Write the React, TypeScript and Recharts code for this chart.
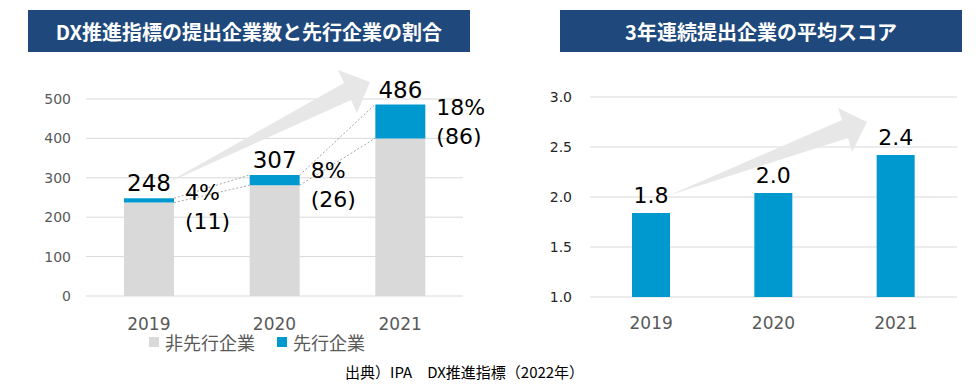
import React from "react";
import {
  ComposedChart,
  BarChart,
  Bar,
  XAxis,
  YAxis,
  CartesianGrid,
  LabelList,
  ReferenceLine,
} from "recharts";

const YEARS = ["2019", "2020", "2021"];
const NON_LEADING = [237, 281, 400];
const LEADING = [11, 26, 86];
const AVG_SCORE = [1.84, 2.04, 2.42];
const COUNT_TICKS = [0, 100, 200, 300, 400, 500];
const SCORE_TICKS = [1.0, 1.5, 2.0, 2.5, 3.0];

const GRAY = "#D9D9D9";
const BLUE = "#0099CF";
const NAVY = "#1F497D";
const AXIS_TEXT = "#595959";
const NUM_FONT = "'DejaVu Sans', 'Noto Sans CJK JP', sans-serif";
const JP_FONT = "'Noto Sans CJK JP', sans-serif";

// half bar width in category units (bar 50px / band ~126px)
const BAR_HALF = 0.2;

const countData = YEARS.map((year, i) => {
  const total = NON_LEADING[i] + LEADING[i];
  return {
    year,
    pos: i + 0.5,
    nonLeading: NON_LEADING[i],
    leading: LEADING[i],
    total,
    share: `${Math.round((LEADING[i] / total) * 100)}%|(${LEADING[i]})`,
  };
});
const yearTicks = countData.map((d) => d.pos);

const scoreData = YEARS.map((year, i) => ({ year, score: AVG_SCORE[i] }));

// dotted connectors between neighbouring bars (Excel-style series lines)
const connectors = countData.slice(0, -1).flatMap((d, i) => {
  const next = countData[i + 1];
  const x1 = d.pos + BAR_HALF;
  const x2 = next.pos - BAR_HALF;
  return [
    [{ x: x1, y: d.total }, { x: x2, y: next.total }],
    [{ x: x1, y: d.nonLeading }, { x: x2, y: next.nonLeading }],
  ];
});

const renderShare = (props: any) => {
  const vb = props.viewBox || props;
  const x = Number(vb.x) + Number(vb.width) + 11;
  const y = Number(vb.y) + Number(vb.height) * 0.3;
  const [pct, cnt] = String(props.value).split("|");
  return (
    <text x={x} y={y} fill="#000" fontSize={22} fontFamily={NUM_FONT}>
      <tspan x={x} y={y}>{pct}</tspan>
      <tspan x={x} y={y + 29}>{cnt}</tspan>
    </text>
  );
};

function Banner({ left, width, text }: { left: number; width: number; text: string }) {
  return (
    <div
      style={{
        position: "absolute",
        left,
        top: 10,
        width,
        height: 42,
        background: NAVY,
        color: "#fff",
        fontFamily: JP_FONT,
        fontWeight: 700,
        fontSize: 20,
        display: "flex",
        alignItems: "center",
        justifyContent: "center",
      }}
    >
      {text}
    </div>
  );
}

function LegendItem({ color, label }: { color: string; label: string }) {
  return (
    <span style={{ display: "inline-flex", alignItems: "center", marginRight: 22 }}>
      <span style={{ width: 10, height: 10, background: color, marginRight: 6 }} />
      {label}
    </span>
  );
}

export default function App() {
  return (
    <div
      style={{
        position: "absolute",
        left: 0,
        top: 0,
        width: 980,
        height: 389,
        background: "#fff",
        overflow: "hidden",
      }}
    >
      <Banner left={28} width={442} text="DX推進指標の提出企業数と先行企業の割合" />
      <Banner left={560} width={402} text="3年連続提出企業の平均スコア" />

      <div style={{ position: "absolute", left: 0, top: 0 }}>
        <ComposedChart
          width={490}
          height={389}
          data={countData}
          margin={{ top: 99, right: 27, bottom: 63, left: 0 }}
        >
          <CartesianGrid vertical={false} stroke={GRAY} />
          <XAxis
            dataKey="pos"
            type="number"
            domain={[0, 3]}
            ticks={yearTicks}
            tickFormatter={(v: number) => YEARS[Math.floor(v)]}
            axisLine={false}
            tickLine={false}
            tickSize={0}
            tickMargin={22}
            height={30}
            tick={{ fill: AXIS_TEXT, fontSize: 17, fontFamily: NUM_FONT }}
          />
          <YAxis
            domain={[0, 500]}
            ticks={COUNT_TICKS}
            width={86}
            axisLine={false}
            tickLine={false}
            tickSize={0}
            tickMargin={15}
            tick={{ fill: AXIS_TEXT, fontSize: 14, fontFamily: NUM_FONT }}
          />
          {connectors.map((seg, i) => (
            <ReferenceLine
              key={i}
              segment={seg}
              stroke="#A6A6A6"
              strokeDasharray="2 2"
              ifOverflow="visible"
            />
          ))}
          <Bar dataKey="nonLeading" stackId="a" fill={GRAY} barSize={50} isAnimationActive={false} />
          <Bar dataKey="leading" stackId="a" fill={BLUE} barSize={50} isAnimationActive={false}>
            <LabelList
              dataKey="total"
              position="top"
              offset={7}
              fill="#000"
              fontSize={23}
              fontFamily={NUM_FONT}
            />
            <LabelList dataKey="share" content={renderShare} />
          </Bar>
        </ComposedChart>
      </div>

      <div style={{ position: "absolute", left: 490, top: 0 }}>
        <BarChart
          width={490}
          height={389}
          data={scoreData}
          margin={{ top: 97, right: 23, bottom: 62, left: 0 }}
        >
          <CartesianGrid vertical={false} stroke={GRAY} />
          <XAxis
            dataKey="year"
            axisLine={false}
            tickLine={false}
            tickSize={0}
            tickMargin={20}
            height={30}
            tick={{ fill: AXIS_TEXT, fontSize: 17, fontFamily: NUM_FONT }}
          />
          <YAxis
            domain={[1, 3]}
            ticks={SCORE_TICKS}
            width={100}
            axisLine={false}
            tickLine={false}
            tickSize={0}
            tickMargin={18}
            tickFormatter={(v: number) => v.toFixed(1)}
            tick={{ fill: "#262626", fontSize: 14, fontFamily: NUM_FONT }}
          />
          <Bar dataKey="score" fill={BLUE} barSize={38} isAnimationActive={false}>
            <LabelList
              dataKey="score"
              position="top"
              offset={10}
              fill="#000"
              fontSize={22}
              fontFamily={NUM_FONT}
              formatter={(v: any) => Number(v).toFixed(1)}
            />
          </Bar>
        </BarChart>
      </div>

      {/* growth arrows */}
      <svg
        width={980}
        height={389}
        style={{ position: "absolute", left: 0, top: 0, pointerEvents: "none" }}
      >
        <polygon
          points="165,184 344,83 338,70 370,82 357,113 351,100"
          fill="#E7E7E7"
        />
        <polygon
          points="670,195 842,120 838,108 867,122 852,152 848,138"
          fill="#E7E7E7"
        />
      </svg>

      <div
        style={{
          position: "absolute",
          left: 149,
          top: 329,
          fontFamily: JP_FONT,
          fontSize: 18,
          color: AXIS_TEXT,
          display: "flex",
          whiteSpace: "nowrap",
        }}
      >
        <LegendItem color={GRAY} label="非先行企業" />
        <LegendItem color={BLUE} label="先行企業" />
      </div>

      <div
        style={{
          position: "absolute",
          left: 345,
          top: 361,
          fontFamily: JP_FONT,
          fontSize: 15,
          color: "#000",
          whiteSpace: "nowrap",
        }}
      >
        出典）IPA　DX推進指標（2022年）
      </div>
    </div>
  );
}
